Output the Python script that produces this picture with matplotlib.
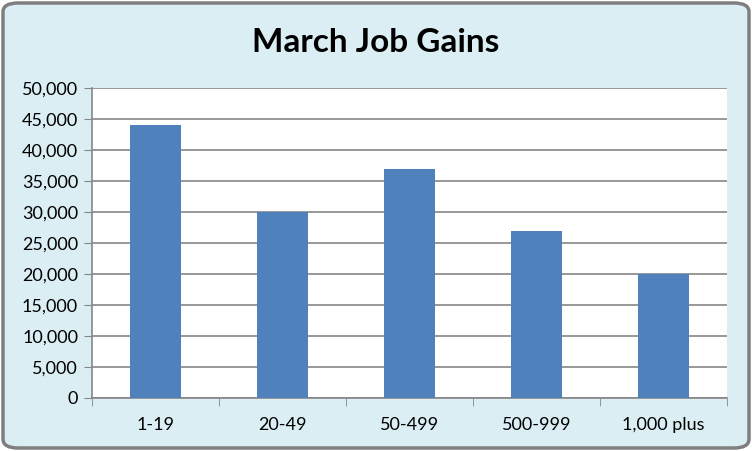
import matplotlib
matplotlib.use("Agg")
import matplotlib.pyplot as plt
from matplotlib.patches import FancyBboxPatch
from matplotlib.ticker import FuncFormatter, MultipleLocator
import numpy as np

categories = ["1-19", "20-49", "50-499", "500-999", "1,000 plus"]
values = [44000, 30000, 37000, 27000, 20000]
title = "March Job Gains"

plt.rcParams['font.family'] = ['Lato', 'DejaVu Sans']

W, H = 752, 451
fig = plt.figure(figsize=(W/100, H/100), dpi=100)
fig.patch.set_facecolor('white')

bg = FancyBboxPatch((3/W, 3/H), (W-6)/W, (H-6)/H,
                    boxstyle="round,pad=0,rounding_size=0.02",
                    transform=fig.transFigure, facecolor='#DBEEF4',
                    edgecolor='#7F7F7F', linewidth=2.5, zorder=-10)
fig.patches.append(bg)

ax = fig.add_axes([92/W, (H-398)/H, (727-92)/W, (398-88)/H])
ax.set_zorder(5)
ax.set_facecolor('white')
x = np.arange(len(categories))
ax.bar(x, values, width=0.4, color='#4F81BD', zorder=3)
ax.set_xlim(-0.5, len(categories)-0.5)
ax.set_ylim(0, 50000)
ax.yaxis.set_major_locator(MultipleLocator(5000))
ax.yaxis.set_major_formatter(FuncFormatter(lambda v, p: f"{int(v):,}"))
ax.grid(axis='y', color='#868686', linewidth=1.2, zorder=1)
ax.set_axisbelow(True)
ax.set_xticks(x)
ax.set_xticklabels(categories)
ax.set_xticks(np.arange(-0.5, len(categories), 1), minor=True)
ax.tick_params(axis='x', which='major', length=0, pad=14, labelsize=13)
ax.tick_params(axis='x', which='minor', length=6, color='#868686', direction='out')
ax.tick_params(axis='y', length=6, color='#868686', labelsize=13, pad=4)
for s in ['top', 'right']:
    ax.spines[s].set_visible(False)
for s in ['left', 'bottom']:
    ax.spines[s].set_color('#868686')
    ax.spines[s].set_linewidth(1.2)

fig.text(0.5, (H-42)/H, title, ha='center', va='center', fontsize=24, fontweight='bold', color='black')

fig.savefig("out.png", dpi=100, facecolor=fig.get_facecolor())
